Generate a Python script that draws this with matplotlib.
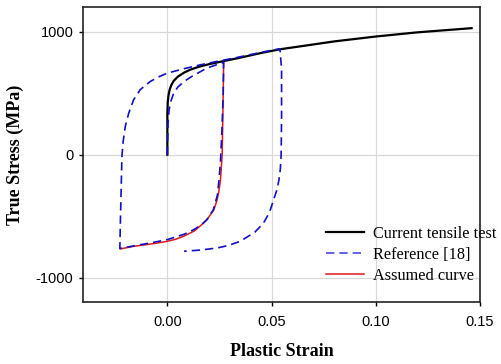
import matplotlib
matplotlib.use("Agg")
import matplotlib.pyplot as plt

# current tensile test (monotonic)
cur_strain = [0.0, 0.0, 0.0002, 0.0006, 0.0012, 0.002, 0.003, 0.005, 0.008, 0.011,
              0.015, 0.02, 0.027, 0.035, 0.045, 0.054, 0.065, 0.08, 0.10, 0.12, 0.146]
cur_stress = [0, 330, 430, 490, 535, 570, 600, 635, 668, 692,
              715, 737, 762, 790, 828, 858, 885, 922, 962, 996, 1030]

# reference [18]: load, unload/reverse, reload, unload/reverse
ref_strain = [0.0, 0.0003, 0.0008, 0.0015, 0.003, 0.005, 0.008, 0.012, 0.019, 0.027,
              0.0268, 0.0262, 0.0255, 0.0248, 0.024, 0.022, 0.019, 0.016, 0.0127, 0.008, 0.0, -0.008, -0.016, -0.0228,
              -0.0226, -0.0222, -0.0218, -0.0212, -0.0202, -0.0185, -0.0162, -0.013, -0.0082, -0.004, 0.0, 0.008, 0.0159, 0.024, 0.0319, 0.04, 0.047, 0.054,
              0.0548, 0.0548, 0.0546, 0.0542, 0.0535, 0.0525, 0.051, 0.049, 0.046, 0.042, 0.035, 0.029, 0.024, 0.016, 0.008]
ref_stress = [0, 250, 360, 425, 500, 550, 596, 640, 705, 752,
              500, 200, -50, -203, -330, -450, -528, -575, -610, -648, -691, -718, -742, -763,
              -600, -300, -14, 110, 230, 340, 447, 530, 596, 635, 664, 700, 732, 760, 786, 815, 840, 862,
              700, 300, 0, -120, -210, -290, -366, -470, -560, -630, -705, -740, -759, -776, -786]

# assumed curve (reverse branch)
ass_strain = [0.027, 0.0268, 0.0265, 0.0263, 0.0255, 0.0247, 0.0239, 0.0223, 0.019, 0.0175,
              0.013, 0.0078, 0.004, 0.0, -0.006, -0.0162, -0.0226]
ass_stress = [752, 500, 200, 0, -203, -300, -366, -450, -528, -555,
              -620, -664, -688, -705, -722, -746, -767]

plt.rcParams['font.family'] = ['Liberation Sans', 'DejaVu Sans']
plt.rcParams['axes.unicode_minus'] = False

fig = plt.figure(figsize=(5.01, 3.64), dpi=100)
ax = fig.add_axes([0.166, 0.17, 0.792, 0.81])

ax.plot(cur_strain, cur_stress, color='black', lw=1.6, label='Current tensile test', zorder=3)
ax.plot(ref_strain, ref_stress, color='#1010c8', lw=1.2, ls=(0, (5, 3)), label='Reference [18]', zorder=4)
ax.plot(ass_strain, ass_stress, color='#e01818', lw=1.1, label='Assumed curve', zorder=3)

ax.set_xlim(-0.0404, 0.15)
ax.set_ylim(-1200, 1200)
ax.set_xticks([0.0, 0.05, 0.10, 0.15])
ax.set_xticklabels(['0.00', '0.05', '0.10', '0.15'])
ax.set_yticks([-1000, 0, 1000])
ax.tick_params(labelsize=10.5, length=3, width=1, direction='out')
ax.tick_params(axis='x', pad=6.5)
ax.tick_params(axis='y', pad=4)
ax.grid(True, color='#d8d8d8', lw=0.9)
ax.set_axisbelow(True)
for sp in ax.spines.values():
    sp.set_linewidth(1.2)
    sp.set_color('#222222')

ax.set_xlabel('Plastic Strain', family='Liberation Serif', fontweight='bold', fontsize=13)
ax.set_ylabel('True Stress (MPa)', family='Liberation Serif', fontweight='bold', fontsize=13)
ax.xaxis.set_label_coords(0.5, -0.139)
ax.yaxis.set_label_coords(-0.149, 0.5)

leg = ax.legend(loc='lower left', bbox_to_anchor=(0.612, 0.062), frameon=False,
                prop={'family': 'Liberation Serif', 'size': 11.7}, handlelength=2.35,
                labelspacing=0.3, handletextpad=0.55, borderaxespad=0, borderpad=0)
leg.get_lines()[1].set_color('#4848e8')

fig.savefig('out.png', dpi=100)
